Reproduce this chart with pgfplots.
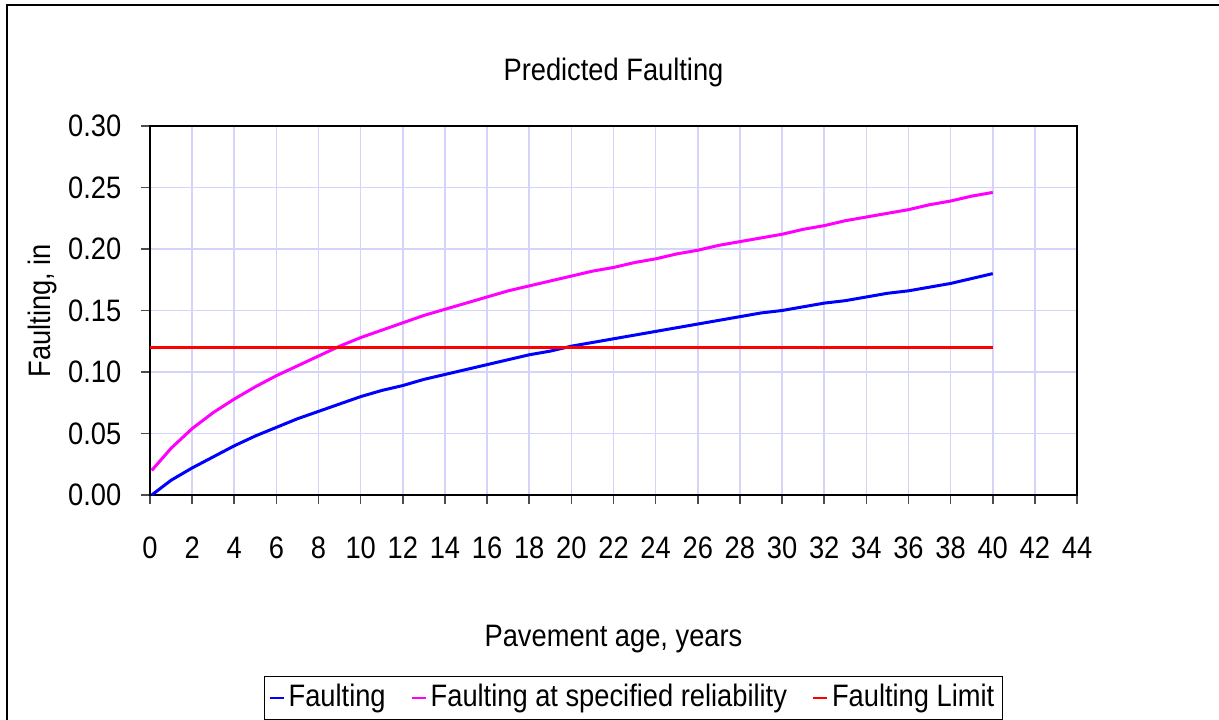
\documentclass[border=0pt]{standalone}
\usepackage{pgfplots}
\pgfplotsset{compat=1.18}
\usepackage{fontspec}
\setmainfont{Liberation Sans}[FakeStretch=0.88]
\definecolor{gridc}{RGB}{212,212,250}
\definecolor{mymag}{RGB}{255,0,255}
\definecolor{myblue}{RGB}{0,0,255}
\definecolor{myred}{RGB}{255,0,0}
\begin{document}
\fontsize{15.5}{18}\selectfont
\begin{tikzpicture}[x=1pt,y=1pt]
\path[use as bounding box] (-75,-112) rectangle (534.5,247.5);
\draw[black, line width=0.8pt] (-71.5,-115) -- (-71.5,245) -- (540,245);
\begin{axis}[
  at={(0,0)}, anchor=origin,
  scale only axis, width=463.5pt, height=184.5pt,
  xmin=0, xmax=44, ymin=0, ymax=0.30,
  xtick={0,2,...,44},
  ytick={0,0.05,...,0.30},
  yticklabel style={/pgf/number format/fixed, /pgf/number format/fixed zerofill, /pgf/number format/precision=2, /pgf/number format/assume math mode=true, xshift=-4.5pt},
  xticklabel style={/pgf/number format/assume math mode=true, yshift=-11pt},
  tick align=outside, major tick length=4.5pt,
  tick style={black!70, line width=0.8pt},
  xtick pos=bottom, ytick pos=left,
  grid=major, major grid style={gridc, line width=0.8pt},
  axis line style={black, line width=0.8pt},
  title={Predicted Faulting},
  title style={at={(axis description cs:0.5,1.112)}, anchor=center},
  xlabel={Pavement age, years},
  xlabel style={at={(axis description cs:0.5,-0.39)}, anchor=center},
  ylabel={Faulting, in},
  ylabel style={at={(axis description cs:-0.1165,0.5)}, anchor=center},
  legend columns=3,
  legend style={at={(axis description cs:0.5215,-0.55)}, anchor=center, draw=black, line width=0.6pt, inner sep=2pt,
    /tikz/every even column/.append style={column sep=10.5pt}, font=\fontsize{15.5}{17}\selectfont},
  legend image code/.code={\draw[#1, line width=1pt] (0pt,0pt) -- (7pt,0pt);},
]
\addplot[myblue, line width=1.5pt] coordinates {
(0.083,0) (1,0.012) (2,0.022) (3,0.031) (4,0.040) (5,0.048) (6,0.055) (7,0.062) (8,0.068) (9,0.074) (10,0.080)
(11,0.085) (12,0.089) (13,0.094) (14,0.098) (15,0.102) (16,0.106) (17,0.110) (18,0.114) (19,0.117) (20,0.121)
(21,0.124) (22,0.127) (23,0.130) (24,0.133) (25,0.136) (26,0.139) (27,0.142) (28,0.145) (29,0.148) (30,0.150)
(31,0.153) (32,0.156) (33,0.158) (34,0.161) (35,0.164) (36,0.166) (37,0.169) (38,0.172) (39,0.176) (40,0.180)};
\addlegendentry{Faulting}
\addplot[mymag, line width=1.5pt] coordinates {
(0.083,0.020) (1,0.038) (2,0.054) (3,0.067) (4,0.078) (5,0.088) (6,0.097) (7,0.105) (8,0.113) (9,0.121) (10,0.128)
(11,0.134) (12,0.140) (13,0.146) (14,0.151) (15,0.156) (16,0.161) (17,0.166) (18,0.170) (19,0.174) (20,0.178)
(21,0.182) (22,0.185) (23,0.189) (24,0.192) (25,0.196) (26,0.199) (27,0.203) (28,0.206) (29,0.209) (30,0.212)
(31,0.216) (32,0.219) (33,0.223) (34,0.226) (35,0.229) (36,0.232) (37,0.236) (38,0.239) (39,0.243) (40,0.246)};
\addlegendentry{Faulting at specified reliability}
\addplot[myred, line width=1.5pt] coordinates {(0,0.12) (40,0.12)};
\addlegendentry{Faulting Limit}
\end{axis}
\end{tikzpicture}
\end{document}
